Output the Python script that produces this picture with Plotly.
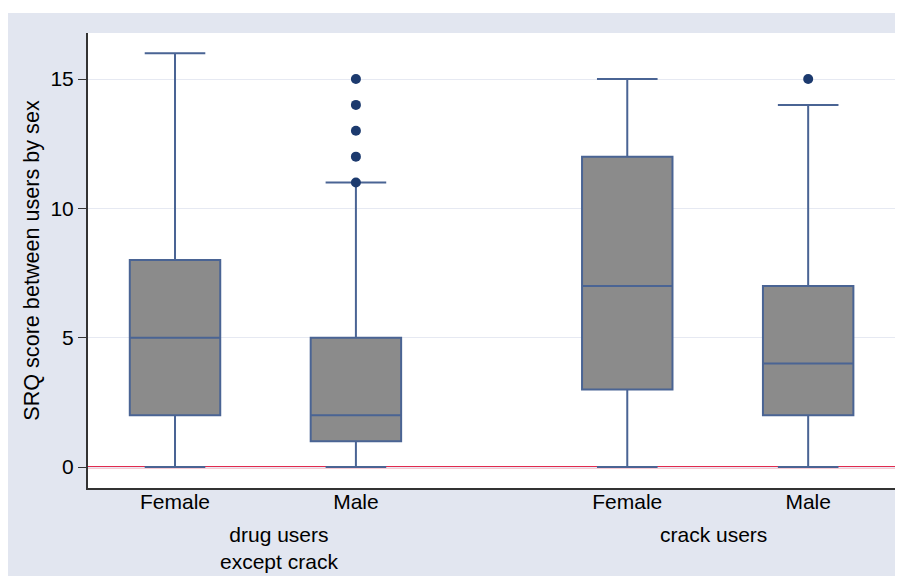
import plotly.graph_objects as go

# ---- data ----
positions = [1, 2, 3.5, 4.5]
sex_labels = ["Female", "Male", "Female", "Male"]
q1 = [2, 1, 3, 2]
median = [5, 2, 7, 4]
q3 = [8, 5, 12, 7]
lower = [0, 0, 0, 0]
upper = [16, 11, 15, 14]
outlier_x = [2, 2, 2, 2, 2, 4.5]
outlier_y = [11, 12, 13, 14, 15, 15]
group_labels = ["drug users<br>except crack", "crack users"]
group_x = [1.575, 3.975]
group_y = [-0.131, -0.103]
y_title = "SRQ score between users by sex"

W, H = 903, 576
L, R, T, B = 80, 16, 25, 96
pw, ph = W - L - R, H - T - B

BOX_LINE = "#4a6494"
DOT = "#1c3a6e"
BG = "#e2e6f0"
FS = 21

fig = go.Figure()
fig.add_trace(go.Box(
    x=positions, q1=q1, median=median, q3=q3,
    lowerfence=lower, upperfence=upper,
    width=0.5, whiskerwidth=0.67,
    fillcolor="#8b8b8b",
    line=dict(color=BOX_LINE, width=2),
    boxpoints=False, hoverinfo="skip", showlegend=False,
))
fig.add_trace(go.Scatter(
    x=outlier_x, y=outlier_y, mode="markers",
    marker=dict(color=DOT, size=10),
    showlegend=False, hoverinfo="skip",
))

shapes = [
    dict(type="line", xref="paper", yref="y", x0=0, x1=1, y0=0, y1=0,
         line=dict(color="#e22a4e", width=2.2), layer="below"),
    # white strip above frame
    dict(type="rect", xref="paper", yref="paper",
         x0=-L / pw, x1=(W - L) / pw, y0=1 + (T - 5) / ph, y1=1 + T / ph,
         fillcolor="white", line=dict(width=0), layer="above"),
]

annotations = []
for gx, gy, gl in zip(group_x, group_y, group_labels):
    annotations.append(dict(
        x=gx, y=gy, xref="x", yref="paper", text=gl, showarrow=False,
        xanchor="center", yanchor="middle",
        font=dict(size=FS, color="black"),
    ))

fig.update_layout(
    width=W, height=H,
    margin=dict(l=L, r=R, t=T, b=B),
    paper_bgcolor=BG, plot_bgcolor="white",
    font=dict(family="Liberation Sans, Arial, sans-serif", size=FS, color="black"),
    shapes=shapes, annotations=annotations,
    xaxis=dict(
        range=[0.519, 4.98], tickvals=positions, ticktext=sex_labels,
        ticks="", showgrid=False, zeroline=False,
        showline=True, linecolor="#333333", linewidth=2,
        tickfont=dict(size=FS), ticklabelstandoff=-6,
    ),
    yaxis=dict(
        range=[-0.81, 16.78], tickvals=[0, 5, 10, 15],
        ticks="outside", ticklen=8, tickwidth=1.2, tickcolor="#333333",
        showgrid=True, gridcolor="#e6e9f2", gridwidth=1, zeroline=False,
        showline=True, linecolor="#333333", linewidth=2,
        title=dict(text=y_title, font=dict(size=21.6), standoff=5),
        tickfont=dict(size=FS),
    ),
)

fig.write_html("out.html")
